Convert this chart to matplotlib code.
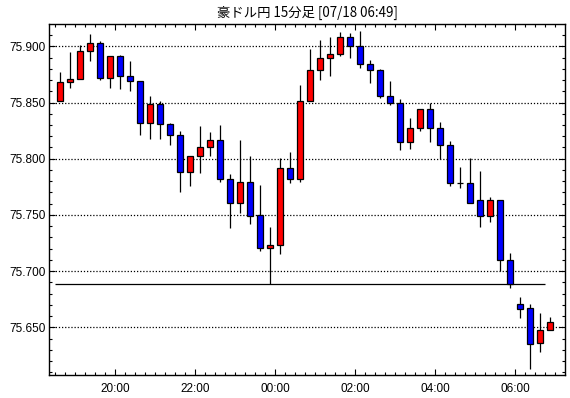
import matplotlib
matplotlib.use("Agg")
import matplotlib.pyplot as plt
from matplotlib.ticker import MultipleLocator, FixedLocator, FuncFormatter
import numpy as np

title = "豪ドル円 15分足 [07/18 06:49]"

opens  = [75.851, 75.868, 75.871, 75.896, 75.903, 75.872, 75.891, 75.874, 75.869, 75.832,
          75.849, 75.831, 75.821, 75.788, 75.802, 75.810, 75.817, 75.782, 75.761, 75.779,
          75.750, 75.721, 75.723, 75.792, 75.782, 75.851, 75.879, 75.890, 75.893, 75.908,
          75.900, 75.884, 75.879, 75.856, 75.850, 75.815, 75.827, 75.844, 75.827, 75.812,
          75.778, 75.778, 75.763, 75.749, 75.763, 75.710, 75.671, 75.667, 75.636, 75.648]
highs  = [75.877, 75.895, 75.901, 75.911, 75.905, 75.891, 75.892, 75.887, 75.869, 75.856,
          75.851, 75.832, 75.825, 75.802, 75.829, 75.824, 75.830, 75.786, 75.817, 75.802,
          75.777, 75.739, 75.801, 75.806, 75.866, 75.898, 75.906, 75.908, 75.913, 75.912,
          75.914, 75.888, 75.880, 75.869, 75.853, 75.836, 75.844, 75.850, 75.833, 75.816,
          75.793, 75.801, 75.789, 75.766, 75.763, 75.716, 75.677, 75.671, 75.663, 75.659]
lows   = [75.851, 75.863, 75.871, 75.887, 75.870, 75.863, 75.862, 75.860, 75.821, 75.818,
          75.818, 75.812, 75.770, 75.776, 75.787, 75.802, 75.779, 75.738, 75.752, 75.742,
          75.718, 75.689, 75.715, 75.778, 75.779, 75.851, 75.870, 75.874, 75.891, 75.890,
          75.881, 75.867, 75.854, 75.848, 75.808, 75.809, 75.825, 75.815, 75.800, 75.776,
          75.774, 75.761, 75.739, 75.744, 75.700, 75.685, 75.658, 75.613, 75.628, 75.648]
closes = [75.868, 75.871, 75.896, 75.903, 75.872, 75.891, 75.874, 75.869, 75.832, 75.849,
          75.831, 75.821, 75.788, 75.802, 75.810, 75.817, 75.782, 75.761, 75.779, 75.749,
          75.721, 75.723, 75.792, 75.782, 75.851, 75.879, 75.890, 75.893, 75.908, 75.900,
          75.884, 75.879, 75.856, 75.850, 75.815, 75.827, 75.844, 75.827, 75.812, 75.778,
          75.778, 75.761, 75.749, 75.763, 75.710, 75.689, 75.666, 75.635, 75.648, 75.655]

tick_labels = ["20:00", "22:00", "00:00", "02:00", "04:00", "06:00"]
tick_index = [5.5, 13.5, 21.5, 29.5, 37.5, 45.5]

level_value = 75.689
level_start = -0.5
level_end = 48.5

fig = plt.figure(figsize=(5.7, 3.98), dpi=100)
ax = fig.add_axes([49.3/570, 23/398, (565-49.3)/570, (375-24.3)/398])

x = np.arange(len(opens))
o = np.array(opens); c = np.array(closes)
h = np.array(highs); l = np.array(lows)
colors = np.where(c >= o, "#FF0000", "#0000FF")

ax.vlines(x, l, h, color="black", linewidth=0.9, zorder=3)
ax.bar(x, c - o, bottom=o, width=0.62, color=colors, edgecolor="black",
       linewidth=0.9, zorder=4)

ax.hlines(level_value, level_start, level_end, color="black", linewidth=0.9, zorder=2)

ax.set_xlim(-1.1, 50.47)
ax.set_ylim(75.6076, 75.9196)

ax.yaxis.set_major_locator(MultipleLocator(0.05))
ax.yaxis.set_minor_locator(MultipleLocator(0.01))
ax.yaxis.set_major_formatter(FuncFormatter(lambda v, p: f"{v:.3f}"))
ax.xaxis.set_major_locator(FixedLocator(tick_index))
ax.xaxis.set_ticklabels(tick_labels)
ax.xaxis.set_minor_locator(FixedLocator(np.arange(-0.5, 50.5, 1.0)))

ax.grid(axis="y", which="major", color="black", linestyle=(0, (1, 1.5)), linewidth=0.9, zorder=1)

ax.tick_params(which="both", direction="in", top=True, right=True, width=0.8, color="black")
ax.tick_params(which="major", length=4.5)
ax.tick_params(which="minor", length=2.3)
ax.tick_params(axis="y", pad=2.5, labelsize=8.5)
ax.tick_params(axis="x", pad=6, labelsize=8.5)
for lab in ax.get_xticklabels() + ax.get_yticklabels():
    lab.set_family("Liberation Sans")

for sp in ax.spines.values():
    sp.set_linewidth(1.0)
    sp.set_color("black")

fig.text((49.3 + 565) / 2 / 570, 1 - 13 / 398, title, ha="center", va="center",
         fontsize=9.6, family=["Noto Sans CJK JP", "DejaVu Sans"])

fig.savefig("out.png", dpi=100)
